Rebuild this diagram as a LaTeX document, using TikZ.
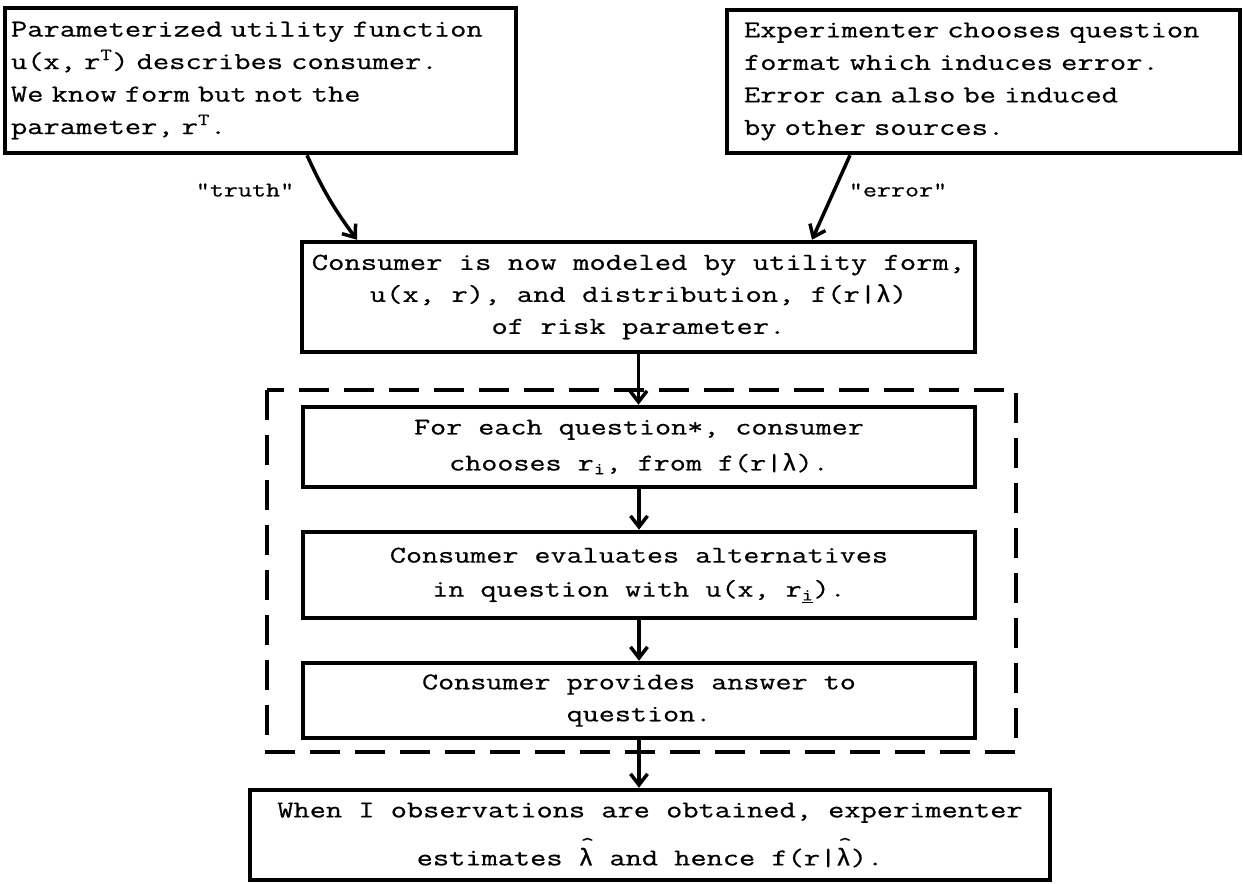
\documentclass[tikz,border=0pt]{standalone}
\usepackage{fontspec}
\setmonofont[FakeStretch=1.3,FakeBold=0.6]{Latin Modern Mono}
\newfontfamily\lamfont[FakeBold=1.2]{Liberation Mono}
\usetikzlibrary{arrows.meta}
\newcommand{\lam}{{\lamfont λ}}
\newcommand{\lamhat}{\makebox[0pt][l]{\hspace{2pt}\raisebox{15pt}{\fontsize{20}{20}\selectfont\textasciicircum}}\lam}
\begin{document}
\begin{tikzpicture}[x=1pt,y=-1pt,
  box/.style={draw,line width=4.5pt,inner sep=3pt,align=center,
    font=\fontsize{24.3}{32.5}\selectfont\ttfamily},
  arr/.style={line width=3.5pt,-{Straight Barb[length=11pt,width=17pt,line width=3.5pt]}},
  lbl/.style={font=\fontsize{21}{26}\selectfont\ttfamily},
  dashbox/.style={draw,line width=4.5pt,dash pattern=on 30pt off 15pt}]
\useasboundingbox (0,0) rectangle (1243,884);
\fill[white] (0,0) rectangle (1243,884);

\node[box,align=left,minimum width=511pt,minimum height=145pt,text width=499pt] (b1) at (260.5,80.5)
  {Parameterized utility function\\u(x, r\textsuperscript{T}) describes consumer.\\We know form but not the\\parameter, r\textsuperscript{T}.};

\node[box,align=left,minimum width=513pt,minimum height=143pt,text width=479pt] (b2) at (983.5,81.5)
  {Experimenter chooses question\\format which induces error.\\Error can also be induced\\by other sources.};

\node[box,minimum width=673pt,minimum height=110pt,
  font=\fontsize{24.4}{32}\selectfont\ttfamily] (b3) at (638.5,297)
  {Consumer is now modeled by utility form,\\u(x, r), and distribution, f(r|\lam)\\of risk parameter.};

\draw[dashbox] (267,390) rectangle (1016,752);

\node[box,minimum width=672pt,minimum height=80pt,
  font=\fontsize{24}{36}\selectfont\ttfamily] (b4) at (639,447)
  {For each question*, consumer\\chooses r\textsubscript{i}, from f(r|\lam).};

\node[box,minimum width=672pt,minimum height=86pt,
  font=\fontsize{24}{34}\selectfont\ttfamily] (b5) at (639,575)
  {Consumer evaluates alternatives\\in question with u(x, r\textsubscript{\underline{i}}).};

\node[box,minimum width=672pt,minimum height=75pt,
  font=\fontsize{24}{32}\selectfont\ttfamily] (b6) at (639,700.5)
  {Consumer provides answer to\\question.};

\node[box,minimum width=800pt,minimum height=90pt,
  font=\fontsize{24.2}{48}\selectfont\ttfamily] (b7) at (650,835)
  {When I observations are obtained, experimenter\\estimates \lamhat{} and hence f(r|\lamhat).};

\node[lbl] (t) at (245,190) {"truth"};
\node[lbl] (e) at (898,190) {"error"};

\draw[arr] ([xshift=46.5pt]b1.south) to[bend right=6] ([xshift=-281.5pt]b3.north);
\draw[arr] ([xshift=-133.5pt]b2.south) -- ([xshift=173.5pt]b3.north);
\draw[arr] (b3.south) -- (b3.south |- b4.north);
\draw[arr] (b4.south) -- (b5.north);
\draw[arr] (b5.south) -- (b6.north);
\draw[arr] (b6.south) -- (b6.south |- b7.north);
\end{tikzpicture}
\end{document}
